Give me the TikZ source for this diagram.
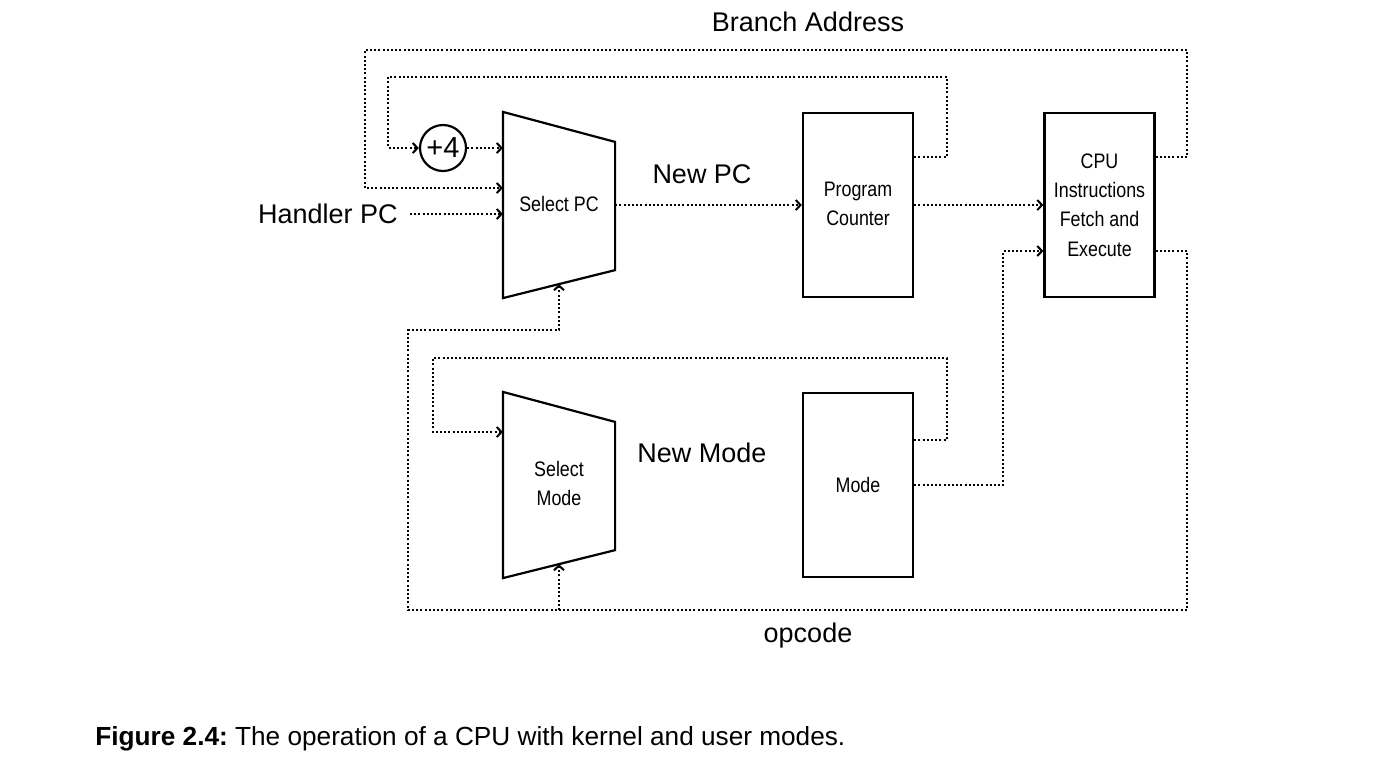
\documentclass[tikz,border=0pt]{standalone}
\usepackage{fontspec}
\setmainfont{Liberation Sans}
\newfontfamily\narrowfont[FakeStretch=0.85]{Liberation Sans}
\usetikzlibrary{calc,arrows.meta,positioning}

\begin{document}
\begin{tikzpicture}[x=0.5pt,y=-0.5pt,
    box/.style={draw,line width=1.1pt,minimum width=55pt,minimum height=92pt,inner sep=0pt,align=center,font=\narrowfont\fontsize{10.5}{14.6}\selectfont},
    mux/.style={box,draw=none},
    lbl/.style={font=\fontsize{13.5}{16}\selectfont},
    wire/.style={line width=1.1pt,dash pattern=on 1pt off 1.1pt},
    link/.style={wire,-{Straight Barb[length=2.4pt,width=5pt,line width=1pt]}}]
            \useasboundingbox (0,0) rectangle (1384,762);

            \node[mux] (selpc) at (559,205) {\raisebox{1pt}{Select PC}};
            \node[box] (pc) at (858,205) {\raisebox{1.75pt}{\begin{tabular}{@{}c@{}}Program\\Counter\end{tabular}}};
            \node[box] (cpu) at (1099.5,205) {CPU\\Instructions\\Fetch and\\Execute};
            \node[mux] (selmode) at (559,485) {\raisebox{2pt}{\begin{tabular}{@{}c@{}}Select\\Mode\end{tabular}}};
            \node[box] (mode) at (858,485) {Mode};
            \node[draw,circle,line width=1.1pt,minimum size=23pt,inner sep=0pt,font=\fontsize{14.5}{16}\selectfont] (plus) at (443,148) {+4};

            \draw[line width=1.1pt] (selpc.north west) -- ($(selpc.north east)+(0,30)$) -- ($(selpc.south east)+(0,-28)$) -- (selpc.south west) -- cycle;
            \draw[line width=1.1pt] (selmode.north west) -- ($(selmode.north east)+(0,30)$) -- ($(selmode.south east)+(0,-28)$) -- (selmode.south west) -- cycle;
            \coordinate (pcin) at ($(selpc.south)+(0,-14)$);
            \coordinate (modein) at ($(selmode.south)+(0,-14)$);

            \node[lbl] (branch) at (808,22) {Branch Address};
            \node[lbl] (newpc) at (702,174) {New PC};
            \node[lbl] (newmode) at (702,453) {New Mode};
            \node[lbl] (opcode) at (808,636) {opcode};
            \node[lbl,anchor=east,inner sep=0pt] (handler) at (398,214) {Handler PC};

            \draw[link] (cpu.east |- 0,157) -- (1187,157) |- (365,50) |- (selpc.west |- 0,188);
            \draw[link] (pc.east |- 0,157) -- (947,157) |- (388,77) |- (plus.west);
            \draw[link] (plus.east) -- (selpc.west |- plus);
            \draw[link] ([xshift=6pt]handler.east) -- (selpc.west |- handler);
            \draw[link] (selpc.east) -- (pc.west);
            \draw[link] (pc.east) -- (cpu.west);
            \draw[link] (mode.east) -- (1003,485) |- (cpu.west |- 0,251);
            \draw[link] (cpu.east |- 0,251) -- (1187,251) |- (408,610) |- (559,330) -- (pcin);
            \draw[link] (559,610) -- (modein);
            \draw[link] (mode.east |- 0,440) -- (947,440) |- (433,358) |- (selmode.west |- 0,432);

            \node[anchor=base west,inner sep=0pt,font=\fontsize{13.1}{15}\selectfont] (caption) at (95,745) {\textbf{Figure 2.4:}~The operation of a CPU with kernel and user modes.};
        \end{tikzpicture}
\end{document}
